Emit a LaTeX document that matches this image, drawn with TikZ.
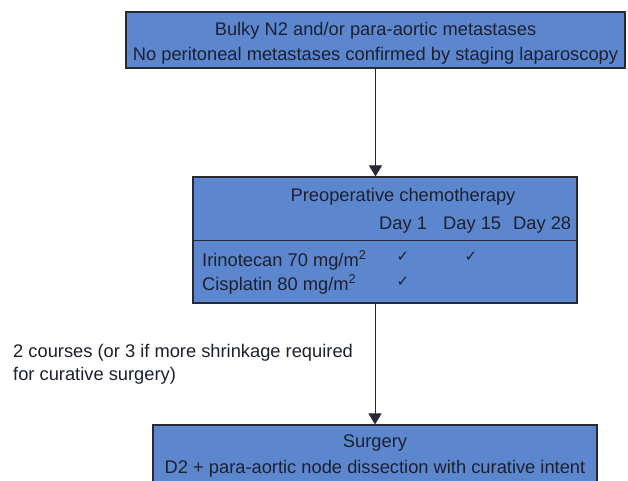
\documentclass[tikz,border=0pt]{standalone}
\usepackage{fontspec}
\setmainfont{Liberation Sans}
\newfontfamily\symfont{DejaVu Sans}
\usetikzlibrary{arrows.meta}
\definecolor{boxblue}{RGB}{92,135,206}
\definecolor{ink}{RGB}{28,32,48}
\definecolor{edge}{RGB}{40,40,55}
\tikzset{
  box/.style={draw=edge, line width=1.1pt, fill=boxblue, rectangle, inner sep=0pt},
  txt/.style={text=ink, font=\fontsize{18.3}{24}\selectfont, inner sep=0pt, anchor=base},
  txtw/.style={txt, anchor=base west},
  chk/.style={text=ink, font=\symfont\fontsize{15}{16}\selectfont, inner sep=0pt},
  flow/.style={draw=edge, line width=0.9pt, -{Triangle[width=13pt,length=11pt]}}
}
\begin{document}
\begin{tikzpicture}[x=1pt,y=-1pt]
\useasboundingbox (0,0) rectangle (628,481);
\clip (0,0) rectangle (628,481);
\fill[white] (0,0) rectangle (628,481);
% boxes
\node[box, minimum width=499pt, minimum height=56pt] (b1) at (375.5,40) {};
\node[box, minimum width=384pt, minimum height=126pt] (b2) at (385,240) {};
\node[box, minimum width=444pt, minimum height=70pt] (b3) at (375,460) {};
\draw[draw=edge, line width=1pt] (b2.west |- 0,240) -- (b2.east |- 0,240);
% box 1 text
\node[txt] (t1a) at (375.5,36) {Bulky N2 and/or para-aortic metastases};
\node[txt] (t1b) at (375.5,61) {No peritoneal metastases confirmed by staging laparoscopy};
% box 2 text
\node[txt] (t2a) at (403,201) {Preoperative chemotherapy};
\node[txtw] (d1) at (379,229) {Day 1};
\node[txtw] (d15) at (443,229) {Day 15};
\node[txtw] (d28) at (513,229) {Day 28};
\node[txtw] (iri) at (202,266) {Irinotecan 70 mg/m\textsuperscript{2}};
\node[txtw] (cis) at (202,290) {Cisplatin 80 mg/m\textsuperscript{2}};
\node[chk] (c1) at (403,257) {✓};
\node[chk] (c2) at (471,257) {✓};
\node[chk] (c3) at (403,282) {✓};
% left note
\node[txtw] (n1) at (13,357) {2 courses (or 3 if more shrinkage required};
\node[txtw] (n2) at (13,380) {for curative surgery)};
% box 3 text
\node[txt] (t3a) at (375,447) {Surgery};
\node[txt] (t3b) at (375,473) {D2 + para-aortic node dissection with curative intent};
% arrows
\draw[flow] (b1.south) -- (b1.south |- b2.north);
\draw[flow] (b2.south -| b3.north) -- (b3.north);
\end{tikzpicture}
\end{document}
